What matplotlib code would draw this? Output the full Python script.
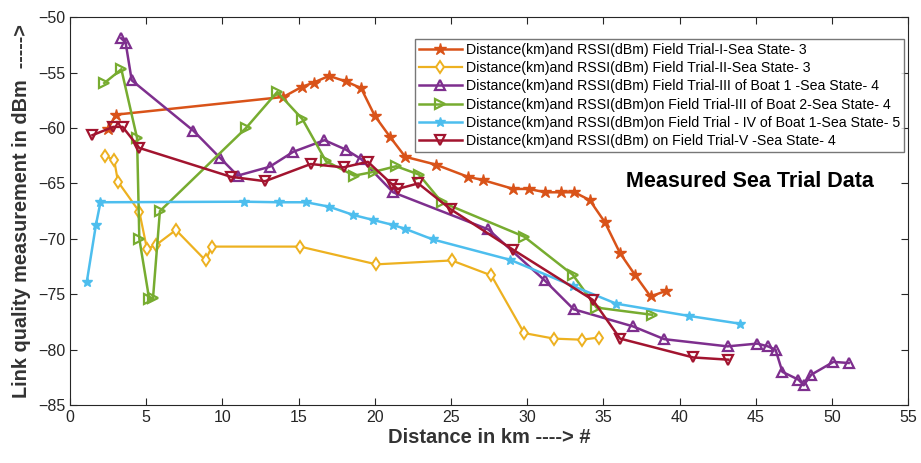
import numpy as np
import matplotlib
matplotlib.use("Agg")
import matplotlib.pyplot as plt

plt.rcParams['font.family'] = ['Liberation Sans', 'DejaVu Sans']

# Field Trial-I, Sea State 3
orange_x = [2.5, 3.0, 14.0, 15.2, 16.0, 17.0, 18.1, 19.1, 20.0, 21.0, 22.0, 24.0, 26.1, 27.1, 29.1, 30.1, 31.2, 32.2, 33.1, 34.1, 35.1, 36.1, 37.1, 38.1, 39.1]
orange_y = [-60.1, -58.8, -57.2, -56.3, -55.9, -55.3, -55.8, -56.4, -58.9, -60.8, -62.6, -63.3, -64.4, -64.7, -65.5, -65.5, -65.8, -65.8, -65.8, -66.5, -68.5, -71.3, -73.3, -75.2, -74.7]

# Field Trial-II, Sea State 3
yellow_x = [2.3, 2.9, 3.15, 4.55, 5.05, 5.65, 6.95, 8.9, 9.3, 15.1, 20.1, 25.05, 27.65, 29.8, 31.75, 33.6, 34.7]
yellow_y = [-62.5, -62.9, -64.85, -67.55, -70.9, -70.55, -69.2, -71.95, -70.7, -70.7, -72.3, -71.95, -73.3, -78.5, -79.0, -79.1, -78.9]

# Field Trial-III Boat 1, Sea State 4
purple_x = [3.35, 3.65, 4.05, 8.1, 9.85, 11.0, 13.1, 14.65, 16.7, 18.1, 19.1, 21.2, 27.45, 31.15, 33.05, 36.95, 39.0, 43.15, 45.1, 45.8, 46.3, 46.75, 47.8, 48.15, 48.65, 50.1, 51.1]
purple_y = [-51.9, -52.3, -55.7, -60.25, -62.7, -64.3, -63.5, -62.15, -61.1, -61.95, -62.8, -65.8, -69.15, -73.75, -76.35, -77.9, -79.05, -79.7, -79.45, -79.7, -80.0, -82.0, -82.7, -83.2, -82.25, -81.1, -81.2]

# Field Trial-III Boat 2, Sea State 4
green_x = [2.25, 3.37, 4.4, 4.55, 5.2, 5.45, 5.9, 11.55, 13.6, 15.25, 16.8, 18.65, 19.95, 21.4, 22.9, 24.4, 29.8, 33.0, 34.55, 38.2]
green_y = [-55.95, -54.7, -60.9, -70.0, -75.45, -75.3, -67.5, -60.0, -56.75, -59.2, -63.0, -64.3, -63.95, -63.45, -64.2, -66.7, -69.8, -73.25, -76.2, -76.85]

# Field Trial-IV Boat 1, Sea State 5
blue_x = [1.1, 1.7, 2.0, 11.45, 13.7, 15.5, 17.0, 18.6, 19.9, 21.2, 22.0, 23.8, 28.9, 33.0, 35.85, 40.6, 43.95]
blue_y = [-73.9, -68.75, -66.7, -66.65, -66.7, -66.7, -67.1, -67.85, -68.3, -68.75, -69.1, -70.05, -71.9, -74.25, -75.85, -76.95, -77.65]

# Field Trial-V, Sea State 4
red_x = [1.47, 2.84, 3.45, 4.55, 10.55, 12.8, 15.8, 17.95, 19.55, 21.15, 21.5, 22.85, 25.0, 29.1, 34.3, 36.1, 40.9, 43.2]
red_y = [-60.65, -59.9, -59.9, -61.8, -64.4, -64.8, -63.25, -63.55, -63.05, -65.1, -65.5, -65.0, -67.35, -71.0, -75.5, -79.0, -80.7, -80.9]

labels = [
    "Distance(km)and RSSI(dBm) Field Trial-I-Sea State- 3",
    "Distance(km)and RSSI(dBm) Field Trial-II-Sea State- 3",
    "Distance(km)and RSSI(dBm) Field Trial-III of Boat 1 -Sea State- 4",
    "Distance(km)and RSSI(dBm)on Field Trial-III of Boat 2-Sea State- 4",
    "Distance(km)and RSSI(dBm)on Field Trial - IV of Boat 1-Sea State- 5",
    "Distance(km)and RSSI(dBm) on Field Trial-V -Sea State- 4",
]

fig = plt.figure(figsize=(9.21, 4.63), dpi=100)
ax = fig.add_axes([0.076, 0.125, 0.910, 0.838])

ax.plot(orange_x, orange_y, color='#D95319', lw=1.8, marker='*', ms=9, label=labels[0])
ax.plot(yellow_x, yellow_y, color='#EDB120', lw=1.6, marker='d', ms=6.5, mfc='white', mew=1.4, label=labels[1])
ax.plot(purple_x, purple_y, color='#7E2F8E', lw=1.8, marker='^', ms=7, mfc='none', mew=1.6, label=labels[2])
ax.plot(green_x, green_y, color='#77AC30', lw=1.8, marker='>', ms=7, mfc='none', mew=1.6, label=labels[3])
ax.plot(blue_x, blue_y, color='#4DBEEE', lw=1.8, marker='*', ms=7.5, label=labels[4])
ax.plot(red_x, red_y, color='#A2142F', lw=1.8, marker='v', ms=7, mfc='none', mew=1.6, label=labels[5])

ax.set_xlim(0, 55)
ax.set_ylim(-85, -50)
ax.set_xticks(np.arange(0, 56, 5))
ax.set_yticks(np.arange(-85, -49, 5))
ax.tick_params(direction='in', top=True, right=True, labelsize=11.5, length=5, colors='#262626')
for s in ax.spines.values():
    s.set_color('#262626')

ax.set_xlabel("Distance in km ----> #", fontsize=14.5, fontweight='bold', color='#333333', labelpad=2)
ax.set_ylabel("Link quality measurement in dBm  ----->", fontsize=14.3, fontweight='bold', color='#333333', labelpad=5)

ax.text(44.6, -64.8, "Measured Sea Trial Data", fontsize=15.5, fontweight='bold', ha='center', va='center')

leg = ax.legend(loc='upper right', bbox_to_anchor=(0.999, 0.952), fontsize=10.2, frameon=True,
                fancybox=False, handlelength=3.0, borderpad=0.3, labelspacing=0.3, handletextpad=0.3,
                borderaxespad=0.2)
leg.get_frame().set_edgecolor('#555555')
leg.get_frame().set_linewidth(1.0)

fig.savefig("out.png", dpi=100)
